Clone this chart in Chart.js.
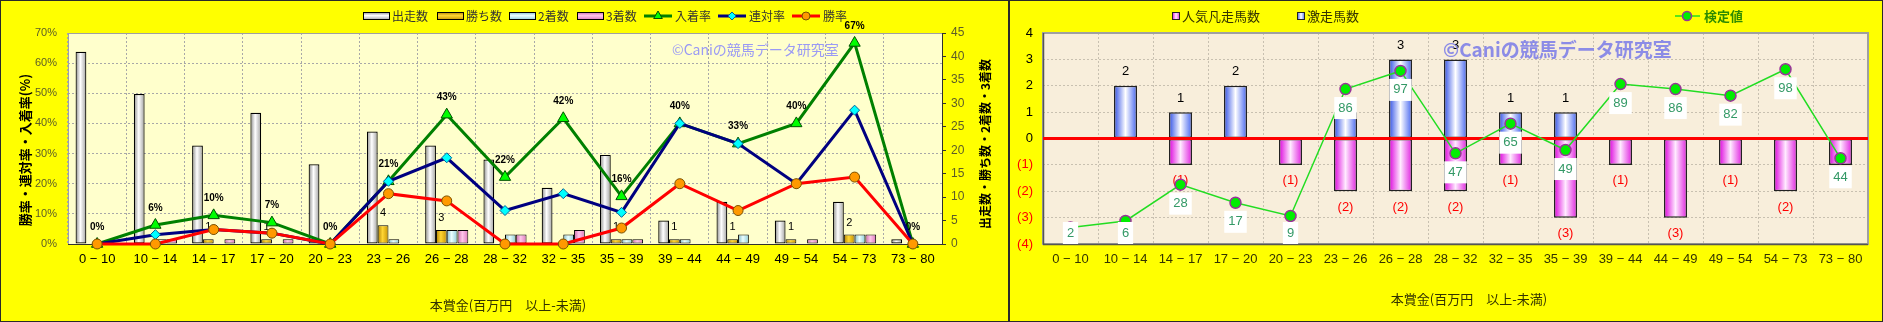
<!DOCTYPE html>
<html>
<head>
<meta charset="utf-8">
<script src="https://cdn.jsdelivr.net/npm/chart.js@4.4.1/dist/chart.umd.min.js"></script>
<style>
  html, body { margin: 0; padding: 0; background: #ffff00; }
  body { width: 1883px; height: 322px; position: relative; overflow: hidden; }
  canvas { position: absolute; top: 0; }
  #c1 { left: 0; }
  #c2 { left: 1008px; }
  .frame { position: absolute; top: 0; height: 322px; box-sizing: border-box; border: 1px solid #2a2a2a; pointer-events: none; }
</style>
</head>
<body>
<canvas id="c1" width="1008" height="322"></canvas>
<canvas id="c2" width="875" height="322"></canvas>
<div class="frame" style="left:0;width:1010px"></div>
<div class="frame" style="left:1008px;width:875px"></div>
<script>
// categories (本賞金 百万円)
const labels = ["0 − 10", "10 − 14", "14 − 17", "17 − 20", "20 − 23", "23 − 26", "26 − 28", "28 − 32",
  "32 − 35", "35 − 39", "39 − 44", "44 − 49", "49 − 54", "54 − 73", "73 − 80"];

// left chart: counts
const runs   = [41, 32, 21, 28, 17, 24, 21, 18, 12, 19, 5, 9, 5, 9, 1];
const wins   = [0, 0, 1, 1, 0, 4, 3, 0, 0, 1, 1, 1, 1, 2, 0];
const second = [0, 1, 0, 0, 0, 1, 3, 2, 2, 1, 1, 2, 0, 2, 0];
const third  = [0, 1, 1, 1, 0, 0, 3, 2, 3, 1, 0, 0, 1, 2, 0];
// left chart: rates (%)
const placeRate    = [0, 6.3, 9.5, 7.1, 0, 20.8, 42.9, 22.2, 41.7, 15.8, 40, 33.3, 40, 66.7, 0];
const quinellaRate = [0, 3.1, 4.8, 3.6, 0, 20.8, 28.6, 11.1, 16.7, 10.5, 40, 33.3, 20, 44.4, 0];
const winRate      = [0, 0, 4.8, 3.6, 0, 16.7, 14.3, 0, 0, 5.3, 20, 11.1, 20, 22.2, 0];

// right chart
const gekisou = [0, 2, 1, 2, 0, 1, 3, 3, 1, 1, 0, 0, 0, 0, 0];
const bonsou  = [0, 0, -1, 0, -1, -2, -2, -2, -1, -3, -1, -3, -1, -2, -1];
const kentei  = [2, 6, 28, 17, 9, 86, 97, 47, 65, 49, 89, 86, 82, 98, 44];

const FONT_NUM = '"Liberation Sans", Arial, sans-serif';
const FONT_JP = '"Noto Sans CJK JP", sans-serif';
Chart.defaults.font.family = FONT_JP;

// gradient stops for the cylinder-like bars
const G_RUNS   = [[0, "#8a8a8a"], [0.45, "#ffffff"], [1, "#a0a0a0"]];
const G_WINS   = [[0, "#b08000"], [0.45, "#ffd633"], [1, "#c89400"]];
const G_SECOND = [[0, "#7fb8c8"], [0.45, "#eaffff"], [1, "#8ccbd8"]];
const G_THIRD  = [[0, "#cc66aa"], [0.45, "#ffc6ea"], [1, "#dd77bb"]];
const G_BLUE   = [[0, "#2f4fe6"], [0.5, "#ffffff"], [1, "#4666f0"]];
const G_PINK   = [[0, "#dd00dd"], [0.5, "#ffeaff"], [1, "#e022e0"]];

function grad(ctx, x0, y0, x1, y1, stops) {
  const g = ctx.createLinearGradient(x0, y0, x1, y1);
  stops.forEach(s => g.addColorStop(s[0], s[1]));
  return g;
}

const barGradient = {
  id: "barGradient",
  beforeDatasetsDraw(chart) {
    const ctx = chart.ctx;
    chart.data.datasets.forEach((ds, i) => {
      if (!ds.grad) return;
      chart.getDatasetMeta(i).data.forEach(el => {
        const g = grad(ctx, el.x - el.width / 2, 0, el.x + el.width / 2, 0, ds.grad);
        el.options = Object.assign({}, el.options, { backgroundColor: g });
      });
    });
  }
};

const plotBackground = {
  id: "plotBackground",
  beforeDraw(chart, args, opts) {
    const { ctx, chartArea: a } = chart;
    ctx.save();
    ctx.fillStyle = opts.color;
    ctx.fillRect(a.left, a.top, a.right - a.left, a.bottom - a.top);
    ctx.restore();
  }
};

function text(ctx, str, x, y, font, color, align) {
  ctx.font = font;
  ctx.fillStyle = color;
  ctx.textAlign = align || "center";
  ctx.textBaseline = "middle";
  ctx.fillText(str, x, y);
}

function vText(ctx, str, x, y, font, color) {
  ctx.save();
  ctx.translate(x, y);
  ctx.rotate(-Math.PI / 2);
  text(ctx, str, 0, 0, font, color);
  ctx.restore();
}

function marker(ctx, style, r, x, y, fill, stroke, bw) {
  ctx.fillStyle = fill;
  ctx.strokeStyle = stroke;
  ctx.lineWidth = bw;
  Chart.helpers.drawPoint(ctx, { pointStyle: style, radius: r, borderWidth: bw, rotation: 0 }, x, y);
}

const gridStyle = { color: "#a8a8a8", drawTicks: false, lineWidth: 1 };

// ---------- left chart ----------
const leftDeco = {
  id: "leftDeco",
  beforeDatasetsDraw(chart) {
    const { ctx, chartArea: a } = chart;
    ctx.save();
    ctx.lineWidth = 1;
    ctx.strokeStyle = "#a0a0a0";
    ctx.beginPath();
    ctx.moveTo(a.left + 0.5, a.bottom);
    ctx.lineTo(a.left + 0.5, a.top + 0.5);
    ctx.lineTo(a.right, a.top + 0.5);
    ctx.stroke();
    ctx.strokeStyle = "#303030";
    ctx.beginPath();
    ctx.moveTo(a.left, a.bottom + 0.5);
    ctx.lineTo(a.right + 0.5, a.bottom + 0.5);
    ctx.lineTo(a.right + 0.5, a.top);
    ctx.stroke();
    ctx.restore();
  },
  afterDatasetDraw(chart, args) {
    const ctx = chart.ctx;
    const ds = chart.data.datasets[args.index];
    ctx.save();
    if (ds.label === "勝ち数") {
      args.meta.data.forEach((el, i) => {
        if (ds.data[i] > 0) text(ctx, String(ds.data[i]), el.x, el.y - 12, "11px " + FONT_NUM, "#000");
      });
    }
    if (ds.label === "入着率") {
      args.meta.data.forEach((el, i) => {
        text(ctx, Math.round(ds.data[i]) + "%", el.x, el.y - 17, "bold 10px " + FONT_NUM, "#000");
      });
    }
    ctx.restore();
  },
  afterDraw(chart) {
    const ctx = chart.ctx;
    ctx.save();
    // legend
    const bars = [["出走数", 363, G_RUNS], ["勝ち数", 437, G_WINS], ["2着数", 509, G_SECOND], ["3着数", 577, G_THIRD]];
    bars.forEach(b => {
      ctx.fillStyle = grad(ctx, 0, 12, 0, 20, b[2]);
      ctx.fillRect(b[1], 12, 26, 8);
      ctx.strokeStyle = "#000";
      ctx.lineWidth = 1;
      ctx.strokeRect(b[1] + 0.5, 12.5, 26, 7);
      text(ctx, b[0], b[1] + 29, 16, "12px " + FONT_JP, "#333", "left");
    });
    const lines = [["入着率", 644, "#008000", "triangle", 5, "#00ff00", "#005000"],
                   ["連対率", 718, "#000080", "rectRot", 4, "#00ffff", "#00609a"],
                   ["勝率", 792, "#ff0000", "circle", 4, "#ff9900", "#7a5000"]];
    lines.forEach(l => {
      ctx.strokeStyle = l[2];
      ctx.lineWidth = 3;
      ctx.beginPath();
      ctx.moveTo(l[1], 16);
      ctx.lineTo(l[1] + 28, 16);
      ctx.stroke();
      marker(ctx, l[3], l[4], l[1] + 14, 16, l[5], l[6], 1);
      text(ctx, l[0], l[1] + 31, 16, "12px " + FONT_JP, "#333", "left");
    });
    // axis titles
    vText(ctx, "勝率・連対率・入着率(%)", 25, 150, "bold 13px " + FONT_JP, "#000");
    vText(ctx, "出走数・勝ち数・2着数・3着数", 985, 144, "bold 12px " + FONT_JP, "#000");
    text(ctx, "本賞金(百万円\u3000以上-未満)", 508, 305, "13px " + FONT_JP, "#333300");
    // watermark
    text(ctx, "©Caniの競馬データ研究室", 672, 50, "14px " + FONT_JP, "#9a9af5", "left");
    ctx.restore();
  }
};

new Chart(document.getElementById("c1"), {
  type: "bar",
  data: {
    labels: labels,
    datasets: [
      { type: "line", label: "勝率", data: winRate, yAxisID: "y", order: 0, clip: false,
        borderColor: "#ff0000", borderWidth: 3, tension: 0,
        pointStyle: "circle", pointRadius: 5, pointBackgroundColor: "#ff9900", pointBorderColor: "#7a5000", pointBorderWidth: 1 },
      { type: "line", label: "連対率", data: quinellaRate, yAxisID: "y", order: 1, clip: false,
        borderColor: "#000080", borderWidth: 3, tension: 0,
        pointStyle: "rectRot", pointRadius: 5, pointBackgroundColor: "#00ffff", pointBorderColor: "#00609a", pointBorderWidth: 1 },
      { type: "line", label: "入着率", data: placeRate, yAxisID: "y", order: 2, clip: false,
        borderColor: "#008000", borderWidth: 3, tension: 0,
        pointStyle: "triangle", pointRadius: 6.5, pointBackgroundColor: "#00ff00", pointBorderColor: "#005000", pointBorderWidth: 1 },
      { label: "出走数", data: runs, yAxisID: "y1", order: 3, grad: G_RUNS, borderColor: "#000", borderWidth: 1.2, borderSkipped: false },
      { label: "勝ち数", data: wins, yAxisID: "y1", order: 3, grad: G_WINS, borderColor: "#000", borderWidth: 1, borderSkipped: false },
      { label: "2着数", data: second, yAxisID: "y1", order: 3, grad: G_SECOND, borderColor: "#000", borderWidth: 1, borderSkipped: false },
      { label: "3着数", data: third, yAxisID: "y1", order: 3, grad: G_THIRD, borderColor: "#000", borderWidth: 1, borderSkipped: false },
    ],
  },
  options: {
    responsive: false,
    animation: false,
    devicePixelRatio: 1,
    events: [],
    datasets: { bar: { categoryPercentage: 0.74, barPercentage: 1 } },
    layout: { padding: { top: 33, left: 0, right: 0, bottom: 0 } },
    plugins: {
      legend: { display: false },
      tooltip: { enabled: false },
      plotBackground: { color: "#ffffcc" },
    },
    scales: {
      x: {
        grid: Object.assign({ offset: true }, gridStyle),
        border: { display: false, dash: [2, 2] },
        ticks: { font: { size: 13, family: FONT_NUM }, color: "#000", padding: 8, maxRotation: 0, autoSkip: false },
        afterFit: s => { s.height = 78; },
      },
      y: {
        position: "left",
        min: 0, max: 70,
        grid: gridStyle,
        border: { display: false, dash: [2, 2] },
        ticks: { stepSize: 10, callback: v => v + "%", font: { size: 11, family: FONT_NUM }, color: "#5c5c28", padding: 11 },
        afterFit: s => { s.width = 68; },
      },
      y1: {
        position: "right",
        min: 0, max: 45,
        grid: { drawOnChartArea: false, drawTicks: true, tickLength: 4, tickColor: "#333" },
        border: { display: false },
        ticks: { stepSize: 5, font: { size: 12, family: FONT_NUM }, color: "#5c5c28", padding: 5 },
        afterFit: s => { s.width = 66; },
      },
    },
  },
  plugins: [plotBackground, barGradient, leftDeco],
});

// ---------- right chart ----------
function kenteiBoxes(chart) {
  const idx = chart.data.datasets.findIndex(d => d.label === "検定値");
  const ds = chart.data.datasets[idx];
  const a = chart.chartArea;
  const ctx = chart.ctx;
  ctx.save();
  ctx.font = "13px " + FONT_NUM;
  const boxes = chart.getDatasetMeta(idx).data.map((el, i) => {
    const txt = String(ds.data[i]);
    const w = ctx.measureText(txt).width + 8, h = 22;
    const cy = Math.min(el.y + 19, a.bottom - h / 2);
    return { txt, x: el.x - w / 2, y: cy - h / 2, w, h, cx: el.x, cy };
  });
  ctx.restore();
  return boxes;
}

const rightDeco = {
  id: "rightDeco",
  beforeDatasetsDraw(chart) {
    const { ctx, chartArea: a } = chart;
    ctx.save();
    ctx.lineWidth = 2;
    ctx.strokeStyle = "#a0a0a0";
    ctx.strokeRect(a.left, a.top, a.right - a.left, a.bottom - a.top);
    ctx.strokeStyle = "#555";
    ctx.lineWidth = 1.5;
    ctx.beginPath();
    ctx.moveTo(a.left, a.bottom + 0.5);
    ctx.lineTo(a.right, a.bottom + 0.5);
    ctx.moveTo(a.left + 0.5, a.top);
    ctx.lineTo(a.left + 0.5, a.bottom);
    ctx.stroke();
    ctx.restore();
  },
  afterDatasetDraw(chart, args) {
    const ds = chart.data.datasets[args.index];
    if (ds.type === "line") return;
    const { ctx, chartArea: a } = chart;
    ctx.save();
    // zero line
    const y0 = chart.scales.y.getPixelForValue(0);
    ctx.strokeStyle = "#ff0000";
    ctx.lineWidth = 3;
    ctx.beginPath();
    ctx.moveTo(a.left, y0);
    ctx.lineTo(a.right, y0);
    ctx.stroke();
    const boxes = kenteiBoxes(chart);
    args.meta.data.forEach((el, i) => {
      const v = ds.data[i];
      if (!v) return;
      const ty = v > 0 ? el.y - 14 : el.y + 16;
      const hit = boxes.some(b => Math.abs(b.cx - el.x) < b.w / 2 + 4 && ty + 6 > b.y && ty - 6 < b.y + b.h);
      if (hit) return;
      if (v > 0) text(ctx, String(v), el.x, ty, "13px " + FONT_NUM, "#000");
      else text(ctx, "(" + (-v) + ")", el.x, ty, "13px " + FONT_NUM, "#ff0000");
    });
    ctx.restore();
  },
  afterDatasetsDraw(chart) {
    const ctx = chart.ctx;
    ctx.save();
    kenteiBoxes(chart).forEach(b => {
      ctx.fillStyle = "#ffffff";
      ctx.fillRect(b.x, b.y, b.w, b.h);
      text(ctx, b.txt, b.cx, b.cy, "13px " + FONT_NUM, "#339966");
    });
    ctx.restore();
  },
  afterDraw(chart) {
    const ctx = chart.ctx;
    ctx.save();
    // legend
    [["人気凡走馬数", 164, G_PINK], ["激走馬数", 289, G_BLUE]].forEach(l => {
      ctx.fillStyle = grad(ctx, l[1], 0, l[1] + 8, 0, l[2]);
      ctx.fillRect(l[1], 12, 8, 8);
      ctx.strokeStyle = "#222";
      ctx.lineWidth = 1;
      ctx.strokeRect(l[1] + 0.5, 12.5, 7, 7);
      text(ctx, l[0], l[1] + 10, 16, "13px " + FONT_JP, "#333300", "left");
    });
    ctx.strokeStyle = "#22dd22";
    ctx.lineWidth = 1.5;
    ctx.beginPath();
    ctx.moveTo(667, 16);
    ctx.lineTo(692, 16);
    ctx.stroke();
    marker(ctx, "circle", 4.5, 679, 16, "#00ee00", "#993399", 1.5);
    text(ctx, "検定値", 696, 16, "bold 13px " + FONT_JP, "#2e8b00", "left");
    // axis title
    text(ctx, "本賞金(百万円\u3000以上-未満)", 461, 299, "13px " + FONT_JP, "#333300");
    // watermark
    text(ctx, "©Caniの競馬データ研究室", 435, 50, "bold 19px " + FONT_JP, "#8c8ce6", "left");
    ctx.restore();
  }
};

new Chart(document.getElementById("c2"), {
  type: "bar",
  data: {
    labels: labels,
    datasets: [
      { type: "line", label: "検定値", data: kentei, yAxisID: "y2", order: 0, clip: false,
        borderColor: "#22dd22", borderWidth: 1.5, tension: 0,
        pointStyle: "circle", pointRadius: 5.5, pointBackgroundColor: "#00ee00", pointBorderColor: "#993399", pointBorderWidth: 1.5 },
      { label: "激走馬数", data: gekisou, yAxisID: "y", order: 1, grad: G_BLUE, borderColor: "#222", borderWidth: 1.5, borderSkipped: false },
      { label: "人気凡走馬数", data: bonsou, yAxisID: "y", order: 2, grad: G_PINK, borderColor: "#222", borderWidth: 1.5, borderSkipped: false },
    ],
  },
  options: {
    responsive: false,
    animation: false,
    devicePixelRatio: 1,
    events: [],
    datasets: { bar: { categoryPercentage: 1, barPercentage: 0.42 } },
    layout: { padding: { top: 33, left: 0, right: 15, bottom: 0 } },
    plugins: {
      legend: { display: false },
      tooltip: { enabled: false },
      plotBackground: { color: "#f8eedb" },
    },
    scales: {
      x: {
        stacked: true,
        grid: Object.assign({ offset: true }, gridStyle, { color: "#c8c0b0" }),
        border: { display: false, dash: [2, 2] },
        ticks: { font: { size: 13, family: FONT_NUM }, color: "#333300", padding: 8, maxRotation: 0, autoSkip: false },
        afterFit: s => { s.height = 78; },
      },
      y: {
        stacked: true,
        min: -4, max: 4,
        grid: Object.assign({}, gridStyle, { color: "#c8c0b0" }),
        border: { display: false, dash: [2, 2] },
        ticks: {
          stepSize: 1,
          callback: v => (v < 0 ? "(" + (-v) + ")" : String(v)),
          color: c => (c.tick && c.tick.value < 0 ? "#ff0000" : "#000"),
          font: { size: 13, family: FONT_NUM },
          padding: 10,
        },
        afterFit: s => { s.width = 35; },
      },
      y2: { display: false, min: -8, max: 120 },
    },
  },
  plugins: [plotBackground, barGradient, rightDeco],
});
</script>
</body>
</html>
